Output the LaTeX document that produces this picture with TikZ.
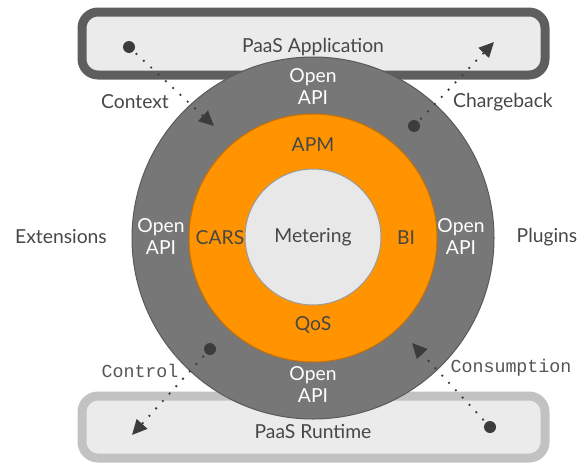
\documentclass[tikz,border=0pt]{standalone}
\usepackage{fontspec}
\setmainfont{Lato}
\newfontfamily\codefont{Liberation Mono}
\usetikzlibrary{arrows.meta}

\definecolor{boxfill}{HTML}{EBEBEB}
\definecolor{appedge}{HTML}{5E5E5E}
\definecolor{runedge}{HTML}{C2C2C2}
\definecolor{ringgray}{HTML}{777777}
\definecolor{ringedge}{HTML}{5A5A5A}
\definecolor{ringorange}{HTML}{FF9400}
\definecolor{orangeedge}{HTML}{C87000}
\definecolor{corefill}{HTML}{E8E8E8}
\definecolor{coreedge}{HTML}{9A9A9A}
\definecolor{txt}{HTML}{474747}
\definecolor{codetxt}{HTML}{555555}
\definecolor{dotc}{HTML}{3C3C3C}

\begin{document}
\begin{tikzpicture}[x=1pt,y=-1pt,
  layerbox/.style={rounded corners=16pt, fill=boxfill, line width=9pt},
  lbl/.style={text=txt, inner sep=0pt, font=\fontsize{19.3}{22}\selectfont},
  api/.style={text=white, inner sep=0pt, align=center, font=\fontsize{19.3}{22}\selectfont},
  codelbl/.style={text=codetxt, inner sep=0pt, font=\codefont\fontsize{18.3}{20}\selectfont},
  srcdot/.style={circle, fill=dotc, minimum size=12pt, inner sep=0pt},
  flow/.style={draw=dotc, line width=2.6pt, line cap=round, dash pattern=on 0pt off 10pt,
    -{Triangle[length=15pt,width=14pt]}, shorten <=4pt}
]
\fill[white] (0,0) rectangle (585,463);
\useasboundingbox (0,0) rectangle (585,463);

% platform layers above and below the core
\draw[layerbox, draw=appedge] (82,12) rectangle (545,75);
\draw[layerbox, draw=runedge] (82,396) rectangle (545,458);
\node[lbl] (app) at (313,47) {PaaS Application};
\node[lbl] (runtime) at (313,431) {PaaS Runtime};

% concentric rings
\node[circle, fill=ringgray, draw=ringedge, line width=1pt, minimum size=362pt, inner sep=0pt] (outer) at (313,238) {};
\node[circle, fill=ringorange, draw=orangeedge, line width=1pt, minimum size=248pt, inner sep=0pt] (mid) at (313,238) {};
\node[circle, fill=corefill, draw=coreedge, line width=1pt, minimum size=136pt, inner sep=0pt] (core) at (313,237) {};

% ring labels
\node[api] (apitop) at (313,87) {Open\\API};
\node[api] (apibot) at (313,385) {Open\\API};
\node[api] (apileft) at (161,237) {Open\\API};
\node[api] (apiright) at (461,237) {Open\\API};
\node[lbl] (apm) at (313,145) {APM};
\node[lbl] (qos) at (313,325) {QoS};
\node[lbl] (cars) at (220,238) {CARS};
\node[lbl] (bi) at (406,238) {BI};
\node[lbl] (meter) at (313,237) {Metering};

% side labels
\node[lbl] (ext) at (61,237) {Extensions};
\node[lbl] (plug) at (547,237) {Plugins};

% flows
\node[srcdot] (ctxsrc) at (129,47) {};
\coordinate (ctxend) at (214,126);
\draw[flow] (ctxsrc) -- (ctxend);
\node[lbl] (ctx) at (135,102) {Context};

\node[srcdot] (cbsrc) at (414,126) {};
\coordinate (cbend) at (494,42);
\draw[flow] (cbsrc) -- (cbend);
\node[lbl] (cb) at (503,102) {Chargeback};

\node[srcdot] (ctlsrc) at (210,349) {};
\coordinate (ctlend) at (132,435);
\draw[flow] (ctlsrc) -- (ctlend);
\node[codelbl] (ctl) at (140,371) {Control};

\node[srcdot] (consrc) at (490,427) {};
\coordinate (conend) at (412,343);
\draw[flow] (consrc) -- (conend);
\node[codelbl] (con) at (511,368) {Consumption};
\end{tikzpicture}
\end{document}
